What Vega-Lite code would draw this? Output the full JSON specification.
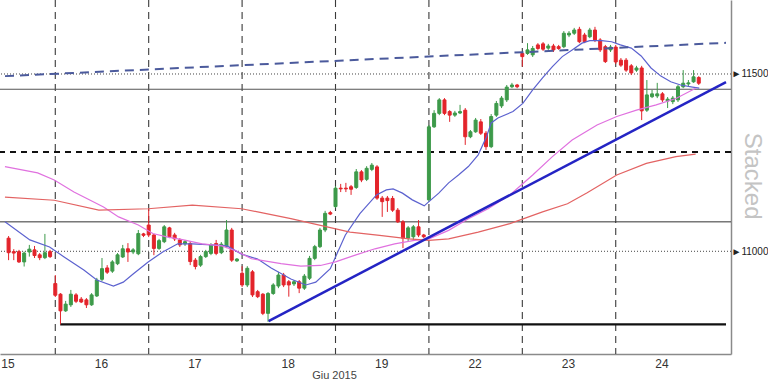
{
 "$schema": "https://vega.github.io/schema/vega-lite/v6.json",
 "width": 731, "height": 354,
 "autosize": {"type": "none"},
 "padding": {"left": 0, "top": 0, "right": 37, "bottom": 30},
 "background": "white",
 "view": {"stroke": null},
 "config": {"font": "Liberation Sans", "axis": {"grid": false}},
 "datasets": {
  "seps": [{"k":0},{"k":18},{"k":36},{"k":54},{"k":72},{"k":90},{"k":108}],
  "candles": [
   {"k":-9,"o":11037,"h":11043,"l":10975,"c":10996},
   {"k":-8,"o":10999,"h":11006,"l":10975,"c":10995},
   {"k":-7,"o":10999,"h":11004,"l":10967,"c":10970},
   {"k":-6,"o":10970,"h":10999,"l":10957,"c":10995},
   {"k":-5,"o":10998,"h":11018,"l":10985,"c":11006},
   {"k":-4,"o":11004,"h":11015,"l":10981,"c":10988},
   {"k":-3,"o":10990,"h":10995,"l":10975,"c":10982},
   {"k":-2,"o":10982,"h":11049,"l":10978,"c":10996},
   {"k":-1,"o":10999,"h":11004,"l":10981,"c":10985},
   {"k":0,"o":10909,"h":10933,"l":10871,"c":10876},
   {"k":1,"o":10879,"h":10882,"l":10794,"c":10832},
   {"k":2,"o":10832,"h":10860,"l":10829,"c":10851},
   {"k":3,"o":10849,"h":10891,"l":10843,"c":10879},
   {"k":4,"o":10877,"h":10882,"l":10854,"c":10859},
   {"k":5,"o":10865,"h":10871,"l":10854,"c":10857},
   {"k":6,"o":10863,"h":10868,"l":10840,"c":10849},
   {"k":7,"o":10849,"h":10882,"l":10846,"c":10877},
   {"k":8,"o":10874,"h":10925,"l":10871,"c":10919},
   {"k":9,"o":10921,"h":10981,"l":10916,"c":10951},
   {"k":10,"o":10953,"h":10961,"l":10936,"c":10941},
   {"k":11,"o":10944,"h":10975,"l":10939,"c":10970},
   {"k":12,"o":10965,"h":10995,"l":10961,"c":10990},
   {"k":13,"o":10984,"h":11018,"l":10981,"c":11007},
   {"k":14,"o":11007,"h":11023,"l":10970,"c":10998},
   {"k":15,"o":10998,"h":11009,"l":10992,"c":11004},
   {"k":16,"o":10993,"h":11060,"l":10989,"c":11050},
   {"k":17,"o":11049,"h":11052,"l":11040,"c":11045},
   {"k":18,"o":11074,"h":11120,"l":11040,"c":11046},
   {"k":19,"o":11046,"h":11049,"l":10989,"c":11008},
   {"k":20,"o":11008,"h":11035,"l":11004,"c":11030},
   {"k":21,"o":11027,"h":11074,"l":11023,"c":11069},
   {"k":22,"o":11066,"h":11069,"l":11037,"c":11041},
   {"k":23,"o":11046,"h":11052,"l":11029,"c":11035},
   {"k":24,"o":11032,"h":11037,"l":11012,"c":11018},
   {"k":25,"o":11021,"h":11032,"l":11015,"c":11027},
   {"k":26,"o":11022,"h":11029,"l":10961,"c":10971},
   {"k":27,"o":10975,"h":10981,"l":10949,"c":10957},
   {"k":28,"o":10961,"h":10990,"l":10956,"c":10985},
   {"k":29,"o":10985,"h":11004,"l":10981,"c":10999},
   {"k":30,"o":10994,"h":11023,"l":10989,"c":11018},
   {"k":31,"o":11022,"h":11032,"l":10989,"c":10994},
   {"k":32,"o":10996,"h":11026,"l":10992,"c":11020},
   {"k":33,"o":11013,"h":11088,"l":11009,"c":11060},
   {"k":34,"o":11060,"h":11066,"l":10970,"c":10975},
   {"k":35,"o":10973,"h":10981,"l":10970,"c":10978},
   {"k":36,"o":10938,"h":10958,"l":10899,"c":10905},
   {"k":37,"o":10905,"h":10958,"l":10899,"c":10952},
   {"k":38,"o":10942,"h":10947,"l":10871,"c":10877},
   {"k":39,"o":10886,"h":10891,"l":10868,"c":10872},
   {"k":40,"o":10879,"h":10882,"l":10820,"c":10825},
   {"k":41,"o":10825,"h":10885,"l":10801,"c":10881},
   {"k":42,"o":10881,"h":10910,"l":10877,"c":10905},
   {"k":43,"o":10902,"h":10942,"l":10896,"c":10933},
   {"k":44,"o":10933,"h":10939,"l":10899,"c":10905},
   {"k":45,"o":10914,"h":10919,"l":10872,"c":10905},
   {"k":46,"o":10908,"h":10919,"l":10902,"c":10914},
   {"k":47,"o":10914,"h":10919,"l":10882,"c":10896},
   {"k":48,"o":10896,"h":10936,"l":10891,"c":10930},
   {"k":49,"o":10924,"h":10987,"l":10919,"c":10980},
   {"k":50,"o":10980,"h":11018,"l":10975,"c":11013},
   {"k":51,"o":11013,"h":11066,"l":11009,"c":11060},
   {"k":52,"o":11060,"h":11114,"l":11054,"c":11107},
   {"k":53,"o":11109,"h":11114,"l":11102,"c":11105},
   {"k":54,"o":11126,"h":11184,"l":11122,"c":11178},
   {"k":55,"o":11178,"h":11190,"l":11167,"c":11176},
   {"k":56,"o":11178,"h":11193,"l":11167,"c":11176},
   {"k":57,"o":11182,"h":11187,"l":11159,"c":11175},
   {"k":58,"o":11180,"h":11232,"l":11176,"c":11224},
   {"k":59,"o":11224,"h":11229,"l":11195,"c":11201},
   {"k":60,"o":11203,"h":11240,"l":11198,"c":11234},
   {"k":61,"o":11231,"h":11249,"l":11226,"c":11243},
   {"k":62,"o":11238,"h":11243,"l":11145,"c":11150},
   {"k":63,"o":11150,"h":11156,"l":11097,"c":11140},
   {"k":64,"o":11150,"h":11156,"l":11111,"c":11143},
   {"k":65,"o":11149,"h":11156,"l":11111,"c":11116},
   {"k":66,"o":11116,"h":11122,"l":11080,"c":11083},
   {"k":67,"o":11083,"h":11088,"l":11009,"c":11037},
   {"k":68,"o":11037,"h":11071,"l":11029,"c":11066},
   {"k":69,"o":11041,"h":11074,"l":11032,"c":11069},
   {"k":70,"o":11069,"h":11088,"l":11040,"c":11046},
   {"k":71,"o":11046,"h":11049,"l":11037,"c":11041},
   {"k":72,"o":11145,"h":11356,"l":11139,"c":11351},
   {"k":73,"o":11351,"h":11398,"l":11348,"c":11389},
   {"k":74,"o":11389,"h":11432,"l":11384,"c":11427},
   {"k":75,"o":11427,"h":11432,"l":11384,"c":11389},
   {"k":76,"o":11394,"h":11398,"l":11365,"c":11384},
   {"k":77,"o":11384,"h":11396,"l":11379,"c":11390},
   {"k":78,"o":11390,"h":11413,"l":11387,"c":11394},
   {"k":79,"o":11398,"h":11404,"l":11300,"c":11323},
   {"k":80,"o":11323,"h":11342,"l":11319,"c":11337},
   {"k":81,"o":11337,"h":11376,"l":11334,"c":11370},
   {"k":82,"o":11365,"h":11373,"l":11328,"c":11333},
   {"k":83,"o":11333,"h":11339,"l":11286,"c":11295},
   {"k":84,"o":11295,"h":11387,"l":11291,"c":11380},
   {"k":85,"o":11384,"h":11424,"l":11379,"c":11417},
   {"k":86,"o":11410,"h":11438,"l":11404,"c":11432},
   {"k":87,"o":11427,"h":11469,"l":11421,"c":11463},
   {"k":88,"o":11464,"h":11475,"l":11460,"c":11469},
   {"k":89,"o":11469,"h":11472,"l":11460,"c":11464},
   {"k":90,"o":11558,"h":11562,"l":11521,"c":11549},
   {"k":91,"o":11558,"h":11587,"l":11554,"c":11568},
   {"k":92,"o":11554,"h":11579,"l":11548,"c":11572},
   {"k":93,"o":11582,"h":11587,"l":11568,"c":11572},
   {"k":94,"o":11585,"h":11590,"l":11565,"c":11570},
   {"k":95,"o":11573,"h":11585,"l":11568,"c":11579},
   {"k":96,"o":11579,"h":11585,"l":11562,"c":11568},
   {"k":97,"o":11577,"h":11582,"l":11568,"c":11572},
   {"k":98,"o":11577,"h":11621,"l":11573,"c":11615},
   {"k":99,"o":11610,"h":11621,"l":11604,"c":11615},
   {"k":100,"o":11615,"h":11630,"l":11610,"c":11624},
   {"k":101,"o":11626,"h":11633,"l":11587,"c":11591},
   {"k":102,"o":11610,"h":11616,"l":11587,"c":11591},
   {"k":103,"o":11605,"h":11630,"l":11601,"c":11624},
   {"k":104,"o":11624,"h":11633,"l":11590,"c":11596},
   {"k":105,"o":11596,"h":11601,"l":11562,"c":11568},
   {"k":106,"o":11577,"h":11582,"l":11531,"c":11535},
   {"k":107,"o":11568,"h":11582,"l":11562,"c":11576},
   {"k":108,"o":11576,"h":11582,"l":11528,"c":11534},
   {"k":109,"o":11539,"h":11545,"l":11520,"c":11525},
   {"k":110,"o":11539,"h":11545,"l":11506,"c":11511},
   {"k":111,"o":11523,"h":11528,"l":11497,"c":11503},
   {"k":112,"o":11511,"h":11523,"l":11506,"c":11517},
   {"k":113,"o":11517,"h":11523,"l":11370,"c":11396},
   {"k":114,"o":11398,"h":11483,"l":11393,"c":11441},
   {"k":115,"o":11436,"h":11455,"l":11432,"c":11444},
   {"k":116,"o":11438,"h":11475,"l":11432,"c":11444},
   {"k":117,"o":11444,"h":11449,"l":11421,"c":11427},
   {"k":118,"o":11424,"h":11435,"l":11404,"c":11429},
   {"k":119,"o":11422,"h":11438,"l":11415,"c":11432},
   {"k":120,"o":11427,"h":11469,"l":11421,"c":11464},
   {"k":121,"o":11464,"h":11511,"l":11460,"c":11474},
   {"k":122,"o":11472,"h":11483,"l":11466,"c":11475},
   {"k":123,"o":11478,"h":11511,"l":11475,"c":11492},
   {"k":124,"o":11490,"h":11494,"l":11469,"c":11474}
  ],
  "ma": [
   {"s":"b","k":-9.7,"v":11083},{"s":"b","k":-4.9,"v":11032},{"s":"b","k":-1.1,"v":11012},{"s":"b","k":1.7,"v":10984},
   {"s":"b","k":5.5,"v":10947},{"s":"b","k":8.0,"v":10919},{"s":"b","k":11.2,"v":10902},{"s":"b","k":13.1,"v":10913},
   {"s":"b","k":15.0,"v":10936},{"s":"b","k":17.9,"v":10970},{"s":"b","k":20.7,"v":10998},{"s":"b","k":23.6,"v":11021},
   {"s":"b","k":26.4,"v":11021},{"s":"b","k":30.2,"v":11018},{"s":"b","k":33.1,"v":11015},{"s":"b","k":35.9,"v":10992},
   {"s":"b","k":39.0,"v":10978},{"s":"b","k":41.6,"v":10953},{"s":"b","k":45.4,"v":10922},{"s":"b","k":48.3,"v":10905},
   {"s":"b","k":50.2,"v":10913},{"s":"b","k":53.0,"v":10951},{"s":"b","k":55.9,"v":11046},{"s":"b","k":58.7,"v":11106},
   {"s":"b","k":61.9,"v":11159},{"s":"b","k":63.8,"v":11173},{"s":"b","k":65.1,"v":11176},{"s":"b","k":66.9,"v":11164},
   {"s":"b","k":68.8,"v":11145},{"s":"b","k":71.1,"v":11128},{"s":"b","k":72.0,"v":11140},{"s":"b","k":73.9,"v":11164},
   {"s":"b","k":75.8,"v":11193},{"s":"b","k":77.7,"v":11215},{"s":"b","k":79.6,"v":11239},{"s":"b","k":81.5,"v":11272},
   {"s":"b","k":83.1,"v":11323},{"s":"b","k":84.0,"v":11362},{"s":"b","k":85.3,"v":11376},{"s":"b","k":88.2,"v":11394},
   {"s":"b","k":90.1,"v":11417},{"s":"b","k":92.0,"v":11455},{"s":"b","k":93.9,"v":11489},{"s":"b","k":95.8,"v":11521},
   {"s":"b","k":97.7,"v":11549},{"s":"b","k":99.6,"v":11568},{"s":"b","k":101.5,"v":11587},{"s":"b","k":103.0,"v":11594},
   {"s":"b","k":105.3,"v":11594},{"s":"b","k":107.2,"v":11591},{"s":"b","k":108.9,"v":11582},{"s":"b","k":111.0,"v":11573},
   {"s":"b","k":112.9,"v":11551},{"s":"b","k":114.8,"v":11517},{"s":"b","k":116.7,"v":11494},{"s":"b","k":118.6,"v":11478},
   {"s":"b","k":120.5,"v":11469},{"s":"b","k":122.8,"v":11463},{"s":"b","k":124.1,"v":11460},
   {"s":"p","k":-9.7,"v":11239},{"s":"p","k":-3.4,"v":11221},{"s":"p","k":-0.2,"v":11201},{"s":"p","k":3.6,"v":11167},
   {"s":"p","k":9.3,"v":11125},{"s":"p","k":12.2,"v":11097},{"s":"p","k":16.0,"v":11074},{"s":"p","k":18.8,"v":11050},
   {"s":"p","k":21.7,"v":11040},{"s":"p","k":24.5,"v":11033},{"s":"p","k":28.3,"v":11021},{"s":"p","k":32.1,"v":11015},
   {"s":"p","k":35.0,"v":11000},{"s":"p","k":37.8,"v":10979},{"s":"p","k":43.5,"v":10965},{"s":"p","k":47.3,"v":10958},
   {"s":"p","k":51.1,"v":10960},{"s":"p","k":54.0,"v":10970},{"s":"p","k":57.8,"v":10989},{"s":"p","k":61.6,"v":11007},
   {"s":"p","k":65.4,"v":11021},{"s":"p","k":69.2,"v":11031},{"s":"p","k":72.0,"v":11035},{"s":"p","k":75.8,"v":11059},
   {"s":"p","k":79.6,"v":11092},{"s":"p","k":83.4,"v":11120},{"s":"p","k":87.6,"v":11159},{"s":"p","k":92.0,"v":11215},
   {"s":"p","k":95.8,"v":11267},{"s":"p","k":99.6,"v":11314},{"s":"p","k":104.4,"v":11356},{"s":"p","k":108.2,"v":11380},
   {"s":"p","k":112.0,"v":11398},{"s":"p","k":115.8,"v":11413},{"s":"p","k":119.6,"v":11431},{"s":"p","k":123.4,"v":11460},
   {"s":"r","k":-9.7,"v":11153},{"s":"r","k":-0.2,"v":11144},{"s":"r","k":8.4,"v":11116},{"s":"r","k":17.9,"v":11120},
   {"s":"r","k":26.4,"v":11130},{"s":"r","k":35.9,"v":11120},{"s":"r","k":39.0,"v":11111},{"s":"r","k":45.4,"v":11092},
   {"s":"r","k":51.1,"v":11073},{"s":"r","k":56.8,"v":11054},{"s":"r","k":62.5,"v":11045},{"s":"r","k":68.2,"v":11035},
   {"s":"r","k":72.0,"v":11031},{"s":"r","k":75.8,"v":11035},{"s":"r","k":81.5,"v":11054},{"s":"r","k":87.6,"v":11078},
   {"s":"r","k":93.9,"v":11111},{"s":"r","k":98.7,"v":11134},{"s":"r","k":102.5,"v":11165},{"s":"r","k":108.2,"v":11215},
   {"s":"r","k":113.9,"v":11248},{"s":"r","k":119.6,"v":11267},{"s":"r","k":123.4,"v":11274}
  ]
 },
 "layer": [
  {
   "data": {"name": "seps"},
   "mark": {"type": "rule", "color": "#3a3a3a", "strokeWidth": 1.1, "strokeDash": [7, 5]},
   "encoding": {
    "x": {"field": "k", "type": "quantitative",
     "scale": {"domain": [-9.69, 129.25], "nice": false, "zero": false},
     "axis": {"values": [-9.2, 8.8, 26.8, 44.8, 62.8, 80.8, 98.8, 116.8],
      "labelExpr": "['15','16','17','18','19','22','23','24'][round((datum.value+9.2)/18)]",
      "ticks": false, "domain": true, "domainColor": "#8a8a8a", "domainWidth": 1.5,
      "labelPadding": 4, "labelFontSize": 12, "labelColor": "#333", "labelFont": "Liberation Sans",
      "title": "Giu 2015", "titleX": 334, "titleY": 21, "titleBaseline": "middle", "titleFontSize": 11,
      "titleFontWeight": "normal", "titleColor": "#444", "titleFont": "Liberation Sans"}}
   }
  },
  {
   "data": {"values": [{"v": 11500}, {"v": 11000}]},
   "mark": {"type": "rule", "color": "#444", "strokeWidth": 1, "strokeDash": [1, 2]},
   "encoding": {
    "y": {"field": "v", "type": "quantitative",
     "scale": {"domain": [10710.3, 11708.7], "nice": false, "zero": false},
     "axis": {"orient": "right", "values": [11000, 11500], "format": "d", "labelExpr": "'►' + datum.label",
      "ticks": false, "domain": true, "domainColor": "#8a8a8a", "domainWidth": 1.5, "labelPadding": 0,
      "labelFontSize": 10, "labelColor": "#222", "labelFont": "Liberation Sans", "title": null}}
   }
  },
  {
   "data": {"values": [{"v": 11457}]},
   "mark": {"type": "rule", "color": "#555", "strokeWidth": 1.2},
   "encoding": {"y": {"field": "v", "type": "quantitative"}}
  },
  {
   "data": {"values": [{"v": 11083}]},
   "mark": {"type": "rule", "color": "#333", "strokeWidth": 1},
   "encoding": {"y": {"field": "v", "type": "quantitative"}}
  },
  {
   "data": {"values": [{"v": 11280}]},
   "mark": {"type": "rule", "color": "#111", "strokeWidth": 2, "strokeDash": [6, 5]},
   "encoding": {"y": {"field": "v", "type": "quantitative"}}
  },
  {
   "data": {"values": [{"k": 0.95, "k2": 129.25, "v": 10794}]},
   "mark": {"type": "rule", "color": "#111", "strokeWidth": 2.2},
   "encoding": {"x": {"field": "k", "type": "quantitative"}, "x2": {"field": "k2"}, "y": {"field": "v", "type": "quantitative"}}
  },
  {
   "data": {"name": "candles"},
   "mark": {"type": "rule", "strokeWidth": 1},
   "encoding": {
    "x": {"field": "k", "type": "quantitative"},
    "y": {"field": "l", "type": "quantitative"}, "y2": {"field": "h"},
    "color": {"condition": {"test": "datum.c >= datum.o", "value": "#3d9a4a"}, "value": "#e3242b"}
   }
  },
  {
   "data": {"name": "candles"},
   "mark": {"type": "bar", "width": 3, "strokeWidth": 1},
   "encoding": {
    "x": {"field": "k", "type": "quantitative"},
    "y": {"field": "o", "type": "quantitative"}, "y2": {"field": "c"},
    "fill": {"condition": {"test": "datum.c >= datum.o", "value": "#3d9a4a"}, "value": "#e3242b"},
    "stroke": {"condition": {"test": "datum.c >= datum.o", "value": "#3d9a4a"}, "value": "#e3242b"}
   }
  },
  {
   "data": {"name": "ma"},
   "mark": {"type": "line", "strokeWidth": 1.2},
   "encoding": {
    "x": {"field": "k", "type": "quantitative"},
    "y": {"field": "v", "type": "quantitative"},
    "color": {"field": "s", "type": "nominal", "scale": {"domain": ["b", "p", "r"], "range": ["#5c62cf", "#e071df", "#e36363"]}, "legend": null}
   }
  },
  {
   "data": {"values": [{"k": -9.69, "v": 11494, "k2": 129.25, "v2": 11588}]},
   "mark": {"type": "rule", "color": "#4b5a9c", "strokeWidth": 2, "strokeDash": [9, 6]},
   "encoding": {"x": {"field": "k", "type": "quantitative"}, "x2": {"field": "k2"}, "y": {"field": "v", "type": "quantitative"}, "y2": {"field": "v2"}}
  },
  {
   "data": {"values": [{"k": 41.1, "v": 10803, "k2": 129.25, "v2": 11477}]},
   "mark": {"type": "rule", "color": "#2424c4", "strokeWidth": 2.5},
   "encoding": {"x": {"field": "k", "type": "quantitative"}, "x2": {"field": "k2"}, "y": {"field": "v", "type": "quantitative"}, "y2": {"field": "v2"}}
  },
  {
   "data": {"values": [{"t": "Stacked"}]},
   "mark": {"type": "text", "angle": 90, "fontSize": 24, "color": "#c4c4c4", "font": "Liberation Sans", "align": "center", "baseline": "middle"},
   "encoding": {"x": {"datum": 134.2, "type": "quantitative"}, "y": {"datum": 11212, "type": "quantitative"}, "text": {"field": "t"}}
  }
 ]
}
